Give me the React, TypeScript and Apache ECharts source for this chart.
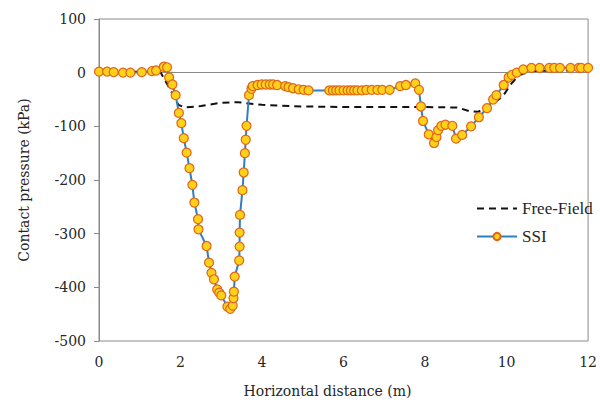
import React, { useEffect, useRef } from "react";
import * as echarts from "echarts";

// Horizontal distance along the foundation (m) and SSI contact pressure (kPa)
const ssiDistance = [
  0.0, 0.2, 0.36, 0.59, 0.77, 1.05, 1.3, 1.4, 1.59, 1.67,
  1.72, 1.8, 1.88, 1.96, 2.02, 2.08, 2.15, 2.22, 2.29, 2.34,
  2.43, 2.44, 2.64, 2.7, 2.76, 2.82, 2.9, 2.95, 3.0, 3.15,
  3.22, 3.28, 3.3, 3.31, 3.33, 3.44, 3.45, 3.45, 3.46, 3.52,
  3.55, 3.58, 3.6, 3.62, 3.68, 3.74, 3.77, 3.89, 3.99, 4.09,
  4.19, 4.27, 4.37, 4.57, 4.65, 4.76, 4.9, 5.02, 5.14, 5.65,
  5.74, 5.82, 5.9, 6.0, 6.1, 6.18, 6.26, 6.34, 6.45, 6.56,
  6.69, 6.83, 6.95, 7.13, 7.39, 7.53, 7.76, 7.85, 7.9, 7.95,
  8.09, 8.22, 8.28, 8.32, 8.4, 8.5, 8.67, 8.76, 8.91, 9.13,
  9.32, 9.52, 9.67, 9.75, 9.93, 10.05, 10.13, 10.25, 10.41, 10.61,
  10.81, 11.05, 11.17, 11.31, 11.57, 11.77, 11.83, 12.0,
];
const ssiPressure = [
  2, 2, 1, 0, 0, 1, 3, 4, 11, 10,
  -9, -22, -42, -75, -94, -122, -149, -178, -209, -242,
  -273, -292, -323, -354, -373, -385, -404, -410, -415, -436,
  -440, -434, -420, -408, -380, -350, -324, -298, -265, -219,
  -186, -150, -125, -99, -42, -30, -25, -23, -22, -22,
  -22, -22, -23, -25, -27, -29, -31, -32, -33, -33,
  -33, -33, -33, -33, -33, -33, -33, -33, -33, -32,
  -32, -32, -32, -32, -25, -23, -20, -32, -63, -90,
  -115, -131, -120, -107, -99, -97, -99, -123, -116, -100,
  -83, -66, -50, -42, -23, -9, -4, 0, 6, 9,
  9, 9, 9, 9, 9, 9, 9, 9,
];

// Free-field contact pressure (kPa)
const ffDistance = [
  0, 1.5, 1.7, 1.95, 2.1, 2.5, 3.0, 3.4, 4.0, 5.0,
  6.0, 7.0, 8.0, 8.8, 9.1, 9.3, 9.6, 9.9, 10.1, 10.3,
  10.6, 12,
];
const ffPressure = [
  1, 2, -25, -60, -65, -62, -56, -55, -60, -63,
  -64, -64, -64, -65, -72, -73, -60, -45, -22, -5,
  3, 5,
];

const xTicks = { min: 0, max: 12, step: 2 };
const yTicks = { min: -500, max: 100, step: 100 };

const seriesNames = ["Free-Field", "SSI"];
const xTitle = "Horizontal distance (m)";
const yTitle = "Contact pressure (kPa)";

const LEGEND_FONT = "Liberation Serif";
const AXIS_FONT = "DejaVu Serif";
const AXIS_GRAY = "#8a8a8a";
const TEXT = "#262626";

const axisText = { fontFamily: AXIS_FONT, fontSize: 14, color: TEXT };

export default function App() {
  const ref = useRef<HTMLDivElement>(null);

  useEffect(() => {
    if (!ref.current) return;
    const chart = echarts.init(ref.current, undefined, { renderer: "svg" });

    const ssiData = ssiDistance.map((d, i) => [d, ssiPressure[i]]);
    const ffData = ffDistance.map((d, i) => [d, ffPressure[i]]);

    chart.setOption({
      animation: false,
      grid: {
        left: 99,
        right: 4,
        top: 19,
        bottom: 64,
        show: true,
        borderColor: AXIS_GRAY,
        borderWidth: 1,
      },
      legend: {
        orient: "vertical",
        left: 471,
        top: 195,
        itemWidth: 40,
        itemHeight: 9,
        itemGap: 11,
        textStyle: { fontFamily: LEGEND_FONT, fontSize: 17, color: TEXT },
        data: [
          {
            name: seriesNames[0],
            itemStyle: { color: "rgba(0,0,0,0)", borderWidth: 0, opacity: 0 },
          },
          seriesNames[1],
        ],
      },
      xAxis: {
        type: "value",
        min: xTicks.min,
        max: xTicks.max,
        interval: xTicks.step,
        name: xTitle,
        nameLocation: "middle",
        nameGap: 43,
        nameTextStyle: { ...axisText, padding: [0, 32, 0, 0] },
        axisLine: { lineStyle: { color: AXIS_GRAY, width: 1 } },
        axisTick: { show: false },
        axisLabel: { ...axisText, margin: 14 },
        splitLine: { show: false },
      },
      yAxis: {
        type: "value",
        min: yTicks.min,
        max: yTicks.max,
        interval: yTicks.step,
        name: yTitle,
        nameLocation: "middle",
        nameGap: 68,
        nameTextStyle: axisText,
        axisLine: { show: true, lineStyle: { color: AXIS_GRAY, width: 1 } },
        axisTick: {
          show: true,
          inside: false,
          length: 5,
          lineStyle: { color: AXIS_GRAY },
        },
        axisLabel: { ...axisText, margin: 13 },
        splitLine: { show: false },
      },
      series: [
        {
          name: seriesNames[0],
          type: "line",
          data: ffData,
          symbol: "none",
          lineStyle: { color: "#111111", width: 2, type: [7, 5] },
          itemStyle: { color: "#111111" },
          z: 2,
        },
        {
          name: seriesNames[1],
          type: "line",
          data: ssiData,
          symbol: "circle",
          symbolSize: 9,
          lineStyle: { color: "#2f7fc1", width: 2 },
          itemStyle: {
            color: "#ffd21a",
            borderColor: "#e0651a",
            borderWidth: 1.2,
          },
          z: 3,
        },
      ],
    });

    return () => chart.dispose();
  }, []);

  return (
    <div
      ref={ref}
      style={{ position: "absolute", left: 0, top: 0, width: 600, height: 405 }}
    />
  );
}
